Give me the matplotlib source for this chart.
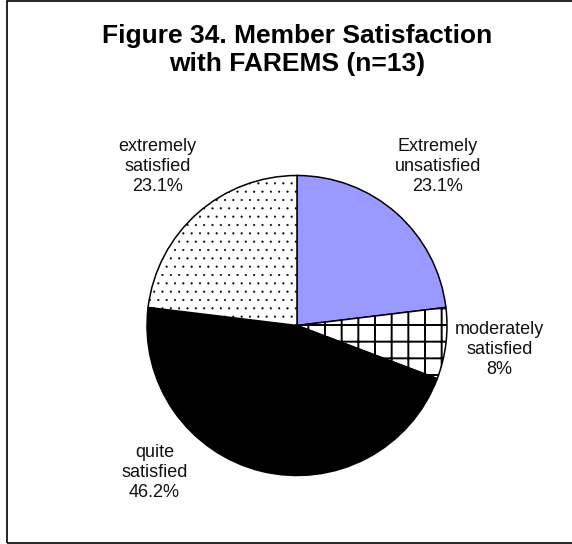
import matplotlib.pyplot as plt
from matplotlib.patches import Rectangle

plt.rcParams['font.family'] = ['Liberation Sans', 'DejaVu Sans']
plt.rcParams['hatch.linewidth'] = 1.4

# data
categories = ['Extremely\nunsatisfied', 'moderately\nsatisfied', 'quite\nsatisfied', 'extremely\nsatisfied']
shares = [23.1, 7.7, 46.2, 23.1]
shown_pct = ['23.1%', '8%', '46.2%', '23.1%']
colors = ['#9999FF', 'white', 'black', 'white']
hatches = [None, '+', None, '..']

fig = plt.figure(figsize=(5.72, 5.44), dpi=100)
ax = fig.add_axes([0, 0, 1, 1])

wedges, _ = ax.pie(shares, colors=colors, startangle=90, counterclock=False,
                   radius=1, center=(0, 0),
                   wedgeprops=dict(edgecolor='black', linewidth=1.1))
for w, h in zip(wedges, hatches):
    if h:
        w.set_hatch(h)
        if h == '..' and hasattr(w, 'set_hatch_linewidth'):
            w.set_hatch_linewidth(0.3)

# pie of radius 1 = 150 px, centre at (297, 325) px from top-left
ax.set_xlim(-297 / 150, (572 - 297) / 150)
ax.set_ylim(-(544 - 325.5) / 150, 325.5 / 150)
ax.set_aspect('auto')
ax.axis('off')

label_pos = [(0.94, 1.06), (1.35, -0.16), (-0.95, -0.98), (-0.93, 1.06)]
for cat, pct, (lx, ly) in zip(categories, shown_pct, label_pos):
    ax.text(lx, ly, cat + '\n' + pct, ha='center', va='center',
            fontsize=13, linespacing=1.25, color='#111111')

fig.text(0.52, 1 - 50 / 544, 'Figure 34. Member Satisfaction\nwith FAREMS (n=13)',
         ha='center', va='center', fontsize=19, fontweight='bold', linespacing=1.2)

# chart frame
fig.patches.append(Rectangle((6.5 / 572, 1 / 544), 1.0, 542 / 544,
                             transform=fig.transFigure, fill=False,
                             edgecolor='black', linewidth=1.2))

fig.savefig('out.png', dpi=100, facecolor='white')
